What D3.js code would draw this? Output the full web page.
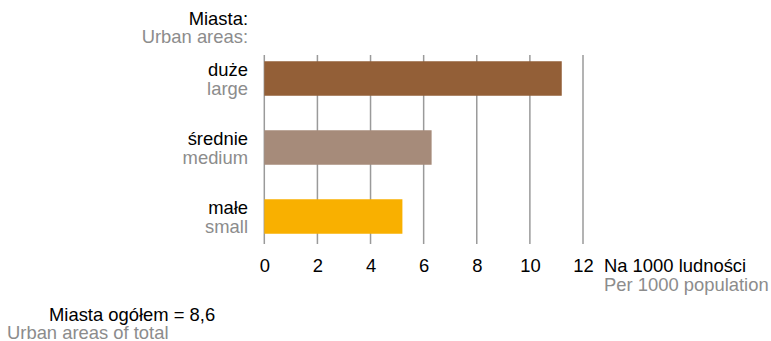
<!DOCTYPE html>
<html><head><meta charset="utf-8">
<script src="https://cdn.jsdelivr.net/npm/d3@7"></script>
<style>body{margin:0;background:#fff;} text{font-family:"Liberation Sans",Arial,sans-serif;}</style>
</head><body>
<svg id="c" width="771" height="341"></svg>
<script>
const categoriesPl = ["duże", "średnie", "małe"];
const categoriesEn = ["large", "medium", "small"];
const values = [11.2, 6.3, 5.2];
const colors = ["#935f37", "#a68b7a", "#f9b000"];
const ticks = [0, 2, 4, 6, 8, 10, 12];

const FS = 18.4;
const svg = d3.select("#c");
const x = d3.scaleLinear().domain([0, 12]).range([264.3, 583]);
const y = d3.scaleBand().domain(categoriesPl).range([44, 251]).paddingInner(0.5).paddingOuter(0.25);
const grey = "#8c8c8c";

// grid
svg.append("g").selectAll("line").data(ticks).join("line")
  .attr("x1", d => x(d)).attr("x2", d => x(d))
  .attr("y1", 55).attr("y2", 244)
  .attr("stroke", "#9a9a9a").attr("stroke-width", 1.5);

// bars
svg.append("g").selectAll("rect").data(values).join("rect")
  .attr("x", x(0)).attr("y", (d, i) => y(categoriesPl[i]))
  .attr("width", d => x(d) - x(0)).attr("height", y.bandwidth())
  .attr("fill", (d, i) => colors[i]);

// axis labels
const ax = svg.append("g").attr("transform", "translate(0,272)");
ax.call(d3.axisBottom(x).tickValues(ticks).tickSize(0).tickPadding(0).tickFormat(d3.format("d")));
ax.select(".domain").remove();
ax.selectAll("text").attr("font-size", FS).attr("fill", "#000").attr("dy", 0)
  .attr("font-family", "Liberation Sans, Arial, sans-serif");

// category labels
const lab = svg.append("g");
categoriesPl.forEach((c, i) => {
  const cy = y(c) + y.bandwidth() / 2;
  lab.append("text").attr("x", 248).attr("y", cy - 2.5).attr("text-anchor", "end")
    .attr("font-size", FS).attr("fill", "#000").text(c);
  lab.append("text").attr("x", 248).attr("y", cy + 16).attr("text-anchor", "end")
    .attr("font-size", FS).attr("fill", grey).text(categoriesEn[i]);
});

function t(xx, yy, s, fill, anchor) {
  svg.append("text").attr("x", xx).attr("y", yy).attr("text-anchor", anchor || "start")
    .attr("font-size", FS).attr("fill", fill).text(s);
}
t(248, 25, "Miasta:", "#000", "end");
t(248, 43, "Urban areas:", grey, "end");
t(604, 272, "Na 1000 ludności", "#000");
t(604, 291, "Per 1000 population", grey);
t(49, 321, "Miasta ogółem = 8,6", "#000");
t(7, 339, "Urban areas of total", grey);
</script>
</body></html>
